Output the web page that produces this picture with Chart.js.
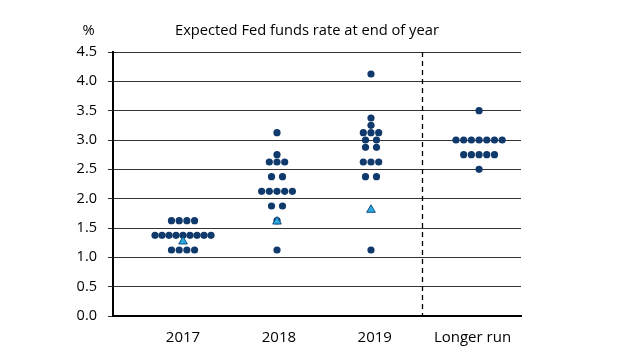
<!DOCTYPE html>
<html><head><meta charset="utf-8">
<script src="https://cdn.jsdelivr.net/npm/chart.js@4/dist/chart.umd.min.js"></script>
<style>html,body{margin:0;padding:0;background:#fff}#wrap{width:640px;height:360px}</style>
</head><body><div id="wrap"><canvas id="c" width="640" height="360"></canvas></div>
<script>
// ---- data ----
const categories = ['2017', '2018', '2019', 'Longer run'];
const rates2017 = [1.625,1.625,1.625,1.625,
  1.375,1.375,1.375,1.375,1.375,1.375,1.375,1.375,1.375,
  1.125,1.125,1.125,1.125];
const rates2018 = [3.125, 2.75, 2.625,2.625,2.625, 2.375,2.375,
  2.125,2.125,2.125,2.125,2.125, 1.875,1.875, 1.625, 1.125];
const rates2019 = [4.125, 3.375, 3.25, 3.125,3.125,3.125, 3.0,3.0, 2.875,2.875,
  2.625,2.625,2.625, 2.375,2.375, 1.125];
const ratesLonger = [3.5, 3.0,3.0,3.0,3.0,3.0,3.0,3.0, 2.75,2.75,2.75,2.75,2.75, 2.5];
const marketPath = [1.27, 1.61, 1.81];   // triangles, 2017-2019
const yTicks = [0, 0.5, 1.0, 1.5, 2.0, 2.5, 3.0, 3.5, 4.0, 4.5];
const titleText = 'Expected Fed funds rate at end of year';
const unitText = '%';

// ---- layout ----
const X_MIN = 0.255, X_MAX = 4.596;
const PX_PER_UNIT = 408 / (X_MAX - X_MIN);
const groupX = i => 1 + i + (i === 3 ? 0.15 : 0);
const labelX = i => [1, 2.02, 3.04, 4.08][i];
const gapFor = n => (n === 2 ? 11 : n >= 9 ? 7 : 7.7);

const allRates = [rates2017, rates2018, rates2019, ratesLonger];
const dotPoints = [];
allRates.forEach((arr, gi) => {
  const rows = {};
  arr.forEach(v => { rows[v] = (rows[v] || 0) + 1; });
  Object.keys(rows).forEach(k => {
    const n = rows[k];
    const gap = gapFor(n);
    for (let j = 0; j < n; j++) {
      const offPx = (j - (n - 1) / 2) * gap;
      dotPoints.push({ x: groupX(gi) + offPx / PX_PER_UNIT, y: parseFloat(k) });
    }
  });
});
const triPoints = marketPath.map((v, i) => ({ x: groupX(i), y: v }));

const FONT = "'Open Sans', 'DejaVu Sans', sans-serif";

const decor = {
  id: 'decor',
  beforeDatasetsDraw(chart) {
    const { ctx, chartArea, scales } = chart;
    const x = Math.round(scales.x.getPixelForValue(3.54)) + 0.5;
    ctx.save();
    ctx.strokeStyle = '#000';
    ctx.lineWidth = 1.3;
    ctx.setLineDash([5, 4]);
    ctx.beginPath();
    ctx.moveTo(x, chartArea.top);
    ctx.lineTo(x, chartArea.bottom);
    ctx.stroke();
    ctx.restore();
  },
  afterDraw(chart) {
    const { ctx } = chart;
    ctx.save();
    ctx.fillStyle = '#000';
    ctx.font = '14.7px ' + FONT;
    ctx.textBaseline = 'middle';
    ctx.textAlign = 'center';
    ctx.fillText(unitText, 88.5, 31);
    ctx.textAlign = 'left';
    ctx.fillText(titleText, 175, 31);
    ctx.restore();
  }
};

new Chart(document.getElementById('c'), {
  type: 'scatter',
  data: {
    datasets: [
      { data: triPoints, order: 0, pointStyle: 'triangle', pointRadius: 5,
        backgroundColor: '#2aa9e0', borderColor: '#16507f', borderWidth: 1 },
      { data: dotPoints, order: 1, pointRadius: 3.6,
        backgroundColor: '#0f3a6b', borderWidth: 0 }
    ]
  },
  options: {
    responsive: false,
    animation: false,
    layout: { padding: { left: 0, right: 119, top: 52, bottom: 14 } },
    plugins: { legend: { display: false }, tooltip: { enabled: false }, title: { display: false } },
    scales: {
      x: {
        type: 'linear', min: X_MIN, max: X_MAX,
        afterBuildTicks: s => { s.ticks = categories.map((c, i) => ({ value: labelX(i) })); },
        afterFit: s => { s.height = 30; },
        grid: { display: false },
        border: { display: true, color: '#000', width: 2 },
        ticks: {
          autoSkip: false, padding: 5, color: '#000', font: { size: 15, family: FONT },
          callback: v => { const i = categories.findIndex((c, k) => Math.abs(labelX(k) - v) < 1e-6); return i >= 0 ? categories[i] : ''; }
        }
      },
      y: {
        min: 0, max: 4.5,
        afterBuildTicks: s => { s.ticks = yTicks.map(v => ({ value: v })); },
        afterFit: s => { s.width = 113; },
        grid: { color: '#333', lineWidth: 1, tickLength: 5, drawTicks: true },
        border: { display: true, color: '#000', width: 2 },
        ticks: { padding: 11, color: '#000', font: { size: 14.5, family: FONT },
          callback: v => Number(v).toFixed(1) }
      }
    }
  },
  plugins: [decor]
});
</script></body></html>
